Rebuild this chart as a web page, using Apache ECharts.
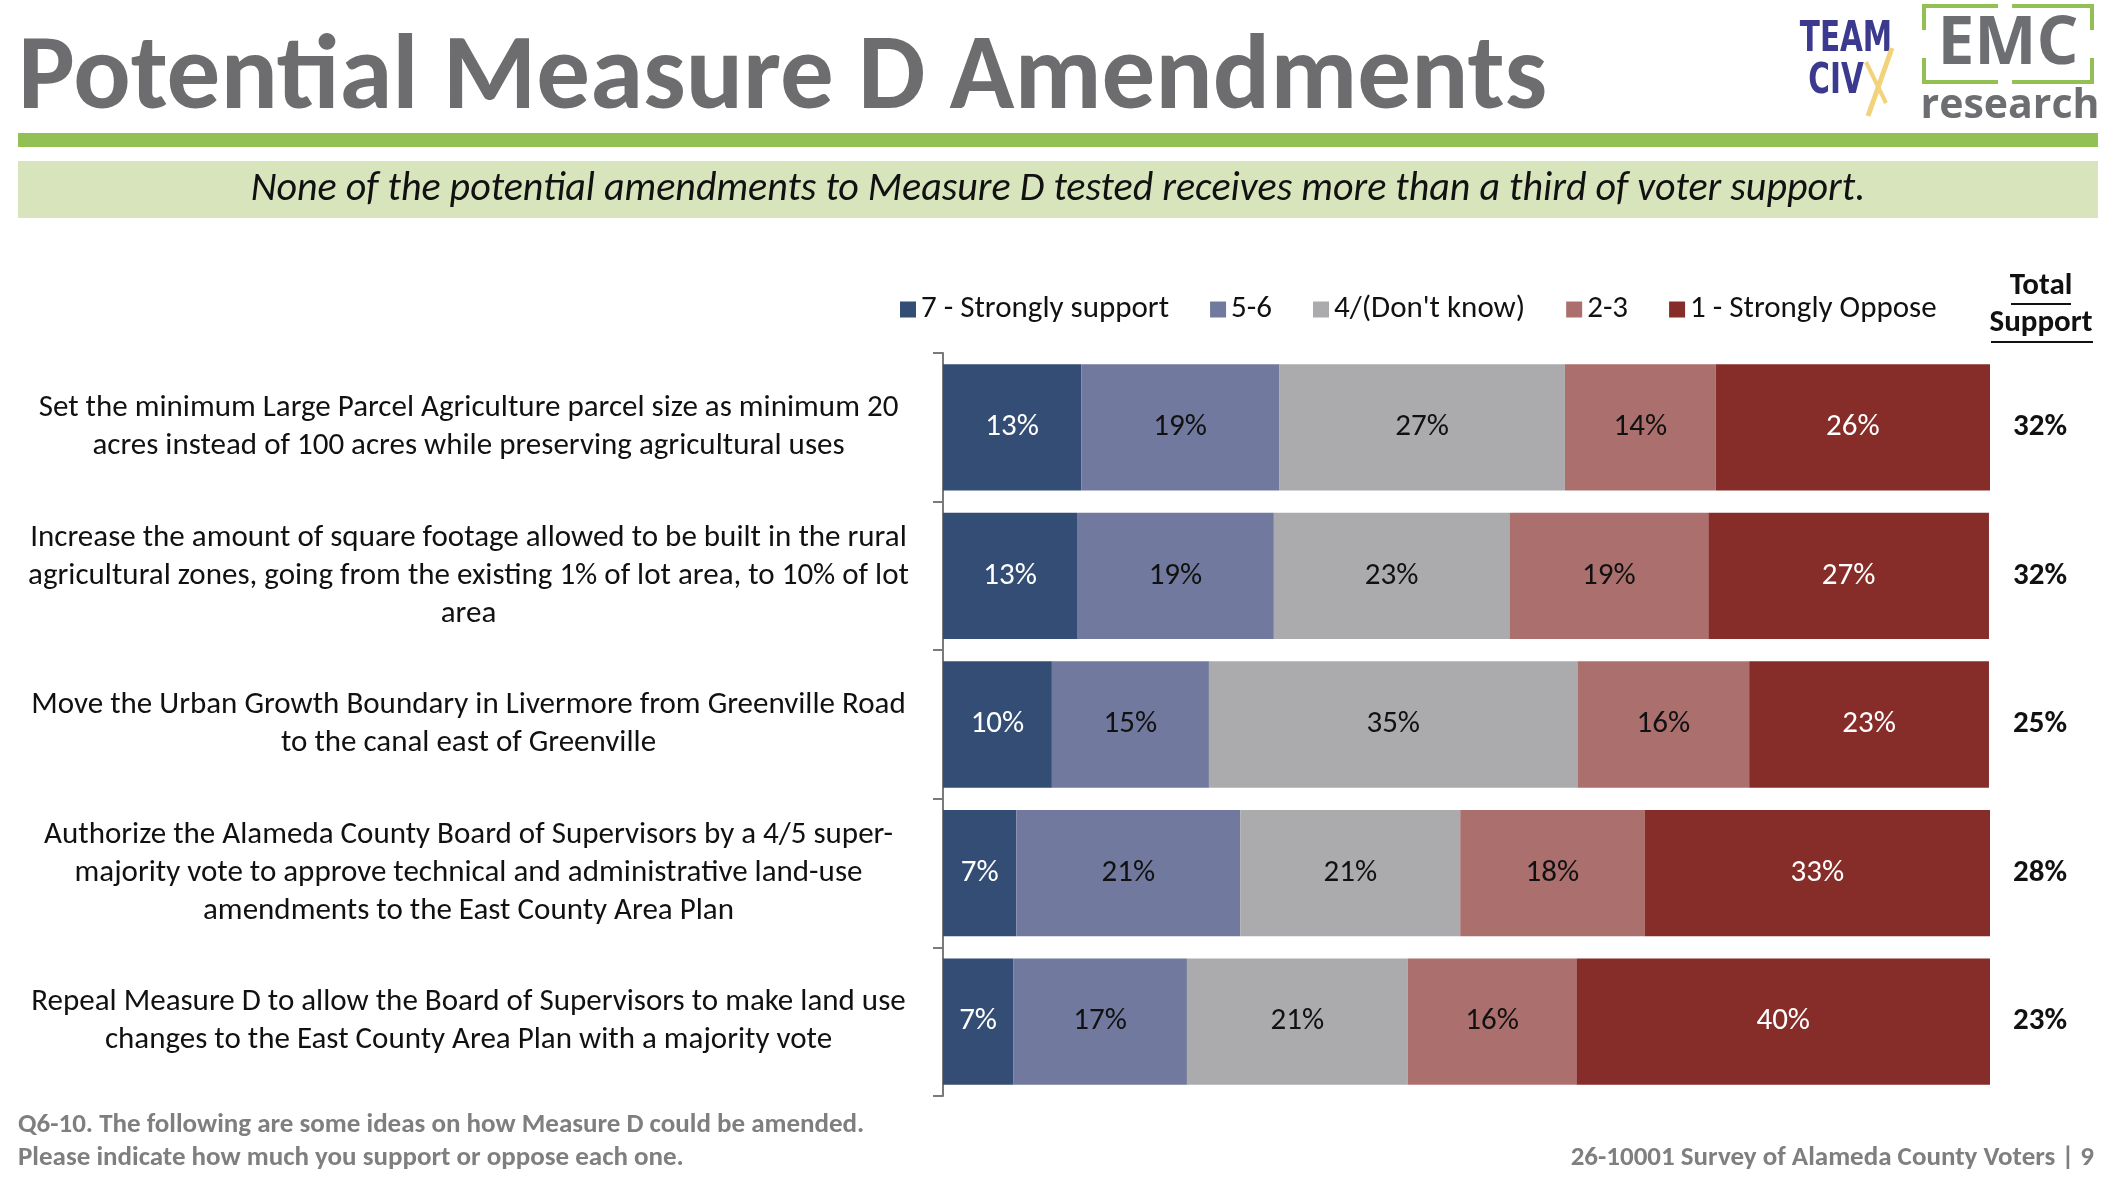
<!DOCTYPE html>
<html>
<head>
<meta http-equiv="Content-Type" content="text/html; charset=utf-8">
<title>Potential Measure D Amendments</title>
<script src="https://cdn.jsdelivr.net/npm/echarts@6/dist/echarts.min.js"></script>
<style>
html, body { margin: 0; padding: 0; background: #fff; }
#main { width: 2124px; height: 1188px; }
</style>
</head>
<body>
<div id="main"></div>
<script type="text/javascript">

var FONT = 'Carlito, Lato, "Open Sans", sans-serif';

var categories = [
	'Set the minimum Large Parcel Agriculture parcel size as minimum 20\nacres instead of 100 acres while preserving agricultural uses',
	'Increase the amount of square footage allowed to be built in the rural\nagricultural zones, going from the existing 1% of lot area, to 10% of lot\narea',
	'Move the Urban Growth Boundary in Livermore from Greenville Road\nto the canal east of Greenville',
	'Authorize the Alameda County Board of Supervisors by a 4/5 super-\nmajority vote to approve technical and administrative land-use\namendments to the East County Area Plan',
	'Repeal Measure D to allow the Board of Supervisors to make land use\nchanges to the East County Area Plan with a majority vote'
];

var seriesNames = ['7 - Strongly support', '5-6', '4/(Don\'t know)', '2-3', '1 - Strongly Oppose'];

// widths (percent)
var strongSupport = [13.2, 12.8, 10.4, 7.0, 6.7];
var support56 = [18.9, 18.8, 15.0, 21.4, 16.6];
var dontKnow = [27.3, 22.5, 35.2, 21.0, 21.1];
var oppose23 = [14.4, 19.0, 16.4, 17.6, 16.1];
var strongOppose = [26.2, 26.8, 22.9, 33.0, 39.6];

var totalSupport = ['32%', '32%', '25%', '28%', '23%'];

var colors = ['#334d74', '#717a9e', '#abaaad', '#ab706e', '#862c29'];
var labelColors = ['#ffffff', '#111111', '#111111', '#111111', '#ffffff'];

var seriesData = [strongSupport, support56, dontKnow, oppose23, strongOppose];

var series = seriesData.map(function (d, i) {
	return {
		name: seriesNames[i],
		type: 'bar',
		stack: 'total',
		barCategoryGap: '15%',
		data: d,
		itemStyle: { color: colors[i] },
		label: {
			show: true,
			position: 'inside',
			fontFamily: FONT,
			fontSize: 31,
			color: labelColors[i],
			formatter: function (p) { return Math.round(p.value) + '%'; }
		}
	};
});

var option = {
	animation: false,
	color: colors,
	textStyle: { fontFamily: FONT },
	legend: {
		data: seriesNames,
		left: 895,
		top: 289,
		icon: 'rect',
		itemWidth: 16,
		itemHeight: 16,
		itemGap: 41,
		textStyle: { fontFamily: FONT, fontSize: 31, color: '#111' }
	},
	grid: {
		left: 943,
		right: 134,
		top: 353,
		bottom: 92
	},
	xAxis: {
		type: 'value',
		min: 0,
		max: 100,
		show: false
	},
	yAxis: [{
		type: 'category',
		inverse: true,
		data: categories,
		axisLine: { show: true, lineStyle: { color: '#7a7a7a', width: 2 } },
		axisTick: { show: true, length: 10, lineStyle: { color: '#7a7a7a', width: 2 } },
		axisLabel: {
			margin: 28,
			formatter: function (v) { return '{t|' + v + '}'; },
			rich: {
				t: {
					width: 893,
					align: 'center',
					fontFamily: FONT,
					fontSize: 31,
					lineHeight: 38,
					color: '#111'
				}
			}
		}
	}, {
		type: 'category',
		inverse: true,
		position: 'right',
		data: totalSupport,
		axisLine: { show: false },
		axisTick: { show: false },
		axisLabel: {
			margin: 50,
			align: 'center',
			fontFamily: FONT,
			fontSize: 31,
			fontWeight: 'bold',
			color: '#111'
		}
	}],
	series: series,
	graphic: [
		{ type: 'text', left: 18, top: 28, style: { text: 'Potential Measure D Amendments', fontFamily: FONT, fontSize: 107, fontWeight: 'bold', fill: '#6d6d70' } },
		{ type: 'rect', shape: { x: 18, y: 133, width: 2080, height: 14 }, style: { fill: '#92c054' } },
		{ type: 'rect', shape: { x: 18, y: 161, width: 2080, height: 57 }, style: { fill: '#d8e4bc' } },
		{ type: 'text', x: 1058, y: 190, style: { text: 'None of the potential amendments to Measure D tested receives more than a third of voter support.', fontFamily: FONT, fontSize: 40, fontStyle: 'italic', fill: '#111', align: 'center', verticalAlign: 'middle' } },
		// Total Support header
		{ type: 'text', x: 2041, y: 286, style: { text: 'Total', fontFamily: FONT, fontSize: 31, fontWeight: 'bold', fill: '#111', align: 'center', verticalAlign: 'middle' } },
		{ type: 'text', x: 2041, y: 323, style: { text: 'Support', fontFamily: FONT, fontSize: 31, fontWeight: 'bold', fill: '#111', align: 'center', verticalAlign: 'middle' } },
		{ type: 'line', shape: { x1: 2011, y1: 304, x2: 2071, y2: 304 }, style: { stroke: '#111', lineWidth: 2 } },
		{ type: 'line', shape: { x1: 1991, y1: 342, x2: 2093, y2: 342 }, style: { stroke: '#111', lineWidth: 2 } },
		// footer
		{ type: 'text', left: 18, top: 1109, style: { text: 'Q6-10. The following are some ideas on how Measure D could be amended.\nPlease indicate how much you support or oppose each one.', fontFamily: FONT, fontSize: 27, fontWeight: 'bold', lineHeight: 33, fill: '#7f7f7f' } },
		{ type: 'text', right: 30, top: 1145, style: { text: '26-10001 Survey of Alameda County Voters | 9', fontFamily: FONT, fontSize: 27, fontWeight: 'bold', fill: '#7f7f7f' } },
		// Team CivX logo
		{ type: 'text', x: 1846, y: 40, scaleX: 0.78, style: { text: 'TEAM', fontFamily: '"DejaVu Sans Condensed", "Liberation Sans Narrow", sans-serif', fontSize: 42, fontWeight: 'bold', fill: '#3b3a8e', align: 'center', verticalAlign: 'middle' } },
		{ type: 'text', x: 1836, y: 82, scaleX: 0.78, style: { text: 'CIV', fontFamily: '"DejaVu Sans Condensed", "Liberation Sans Narrow", sans-serif', fontSize: 42, fontWeight: 'bold', fill: '#3b3a8e', align: 'center', verticalAlign: 'middle' } },
		{ type: 'line', shape: { x1: 1892, y1: 48, x2: 1868, y2: 116 }, style: { stroke: '#f2d27a', lineWidth: 5 } },
		{ type: 'line', shape: { x1: 1866, y1: 62, x2: 1886, y2: 103 }, style: { stroke: '#f2d27a', lineWidth: 4 } },
		// EMC research logo
		{ type: 'polyline', shape: { points: [[1924, 30], [1924, 6], [1998, 6]] }, style: { stroke: '#92c054', lineWidth: 4, fill: null } },
		{ type: 'polyline', shape: { points: [[2012, 6], [2092, 6], [2092, 30]] }, style: { stroke: '#92c054', lineWidth: 4, fill: null } },
		{ type: 'polyline', shape: { points: [[1924, 58], [1924, 82], [1998, 82]] }, style: { stroke: '#92c054', lineWidth: 4, fill: null } },
		{ type: 'polyline', shape: { points: [[2012, 82], [2092, 82], [2092, 58]] }, style: { stroke: '#92c054', lineWidth: 4, fill: null } },
		{ type: 'text', x: 2008, y: 45, style: { text: 'EMC', fontFamily: '"Open Sans", sans-serif', fontSize: 66, fontWeight: 'bold', fill: '#6d6e71', align: 'center', verticalAlign: 'middle' } },
		{ type: 'text', x: 2010, y: 106, style: { text: 'research', fontFamily: '"Open Sans", sans-serif', fontSize: 41, fontWeight: 'bold', fill: '#6d6e71', align: 'center', verticalAlign: 'middle' } }
	]
};

var chart = echarts.init(document.getElementById('main'));
chart.setOption(option);
</script>
</body>
</html>
